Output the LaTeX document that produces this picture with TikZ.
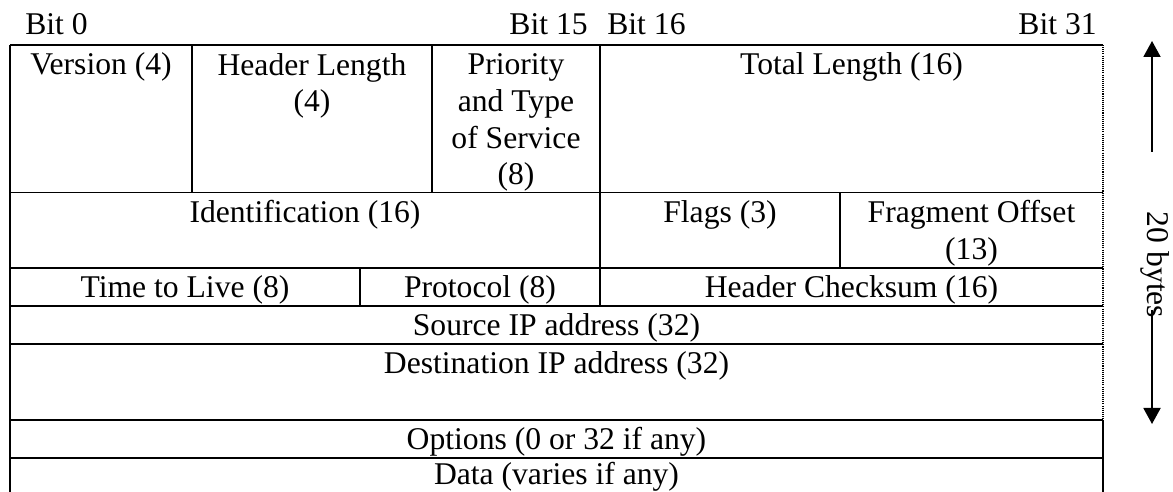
\documentclass[tikz,border=0pt]{standalone}
\usepackage{fontspec}
\setmainfont{Liberation Serif}
\usetikzlibrary{arrows.meta}

\begin{document}
\begin{tikzpicture}[x=0.02cm, y=-0.02cm,
    field/.style={anchor=base, align=center, inner sep=0pt, font=\fontsize{18}{21}\selectfont},
    bitlabel/.style={inner sep=0pt, font=\fontsize{18}{21}\selectfont},
    rule/.style={line width=1.1pt},
    span/.style={line width=1.1pt, -{Triangle[width=0.34cm, length=0.32cm]}}]
    \useasboundingbox (0,0) rectangle (1173,492);

    % bit positions above the table
    \node[bitlabel, anchor=base west] (b0) at (25,35) {Bit 0};
    \node[bitlabel, anchor=base east] (b15) at (588,35) {Bit 15};
    \node[bitlabel, anchor=base west] (b16) at (607,35) {Bit 16};
    \node[bitlabel, anchor=base east] (b31) at (1097,35) {Bit 31};

    % the rows
    \draw[rule] (10,45) -- (1103,45);
    \draw[rule] (10,192.5) -- (1103,192.5);
    \draw[rule] (10,267.7) -- (1103,267.7);
    \draw[rule] (10,305.7) -- (1103,305.7);
    \draw[rule] (10,344) -- (1103,344);
    \draw[rule] (10,420) -- (1103,420);
    \draw[rule] (10,458) -- (1103,458);

    % the columns
    \draw[rule] (10,45) -- (10,492);
    \draw[rule] (192,45) -- (192,192.5);
    \draw[rule] (432,45) -- (432,192.5);
    \draw[rule] (600,45) -- (600,305.7);
    \draw[rule] (840,192.5) -- (840,267.7);
    \draw[rule] (360,267.7) -- (360,305.7);
    \draw[line width=0.6pt, dash pattern=on 0.6pt off 0.6pt] (1103,45) -- (1103,420);
    \draw[rule] (1103,420) -- (1103,492);

    % base of a wrapped text is its last line (37 per line)
    \node[field] (ver) at (101,75) {Version (4)};
    \node[field] (hlen) at (312,112) {Header Length\\(4)};
    \node[field] (tos) at (516,185) {Priority\\and Type\\of Service\\(8)};
    \node[field] (tlen) at (851.5,75) {Total Length (16)};

    \node[field] (ident) at (305,222.5) {Identification (16)};
    \node[field] (flags) at (720,222.5) {Flags (3)};
    \node[field] (frag) at (971.5,259.5) {Fragment Offset\\(13)};

    \node[field] (ttl) at (185,298) {Time to Live (8)};
    \node[field] (proto) at (480,298) {Protocol (8)};
    \node[field] (csum) at (851.5,298) {Header Checksum (16)};

    \node[field] (srcip) at (556.5,336) {Source IP address (32)};
    \node[field] (dstip) at (556.5,374) {Destination IP address (32)};
    \node[field] (opts) at (556.5,450) {Options (0 or 32 if any)};
    \node[field] (data) at (556.5,485) {Data (varies if any)};

    % header size
    \node[bitlabel, rotate=-90] (bytes) at (1155,265) {20 bytes};
    \coordinate (upfoot) at (1152,152);
    \coordinate (uptip) at (1152,41);
    \coordinate (downfoot) at (1152,310);
    \coordinate (downtip) at (1152,424);
    \draw[span] (upfoot) -- (uptip);
    \draw[span] (downfoot) -- (downtip);
\end{tikzpicture}
\end{document}
